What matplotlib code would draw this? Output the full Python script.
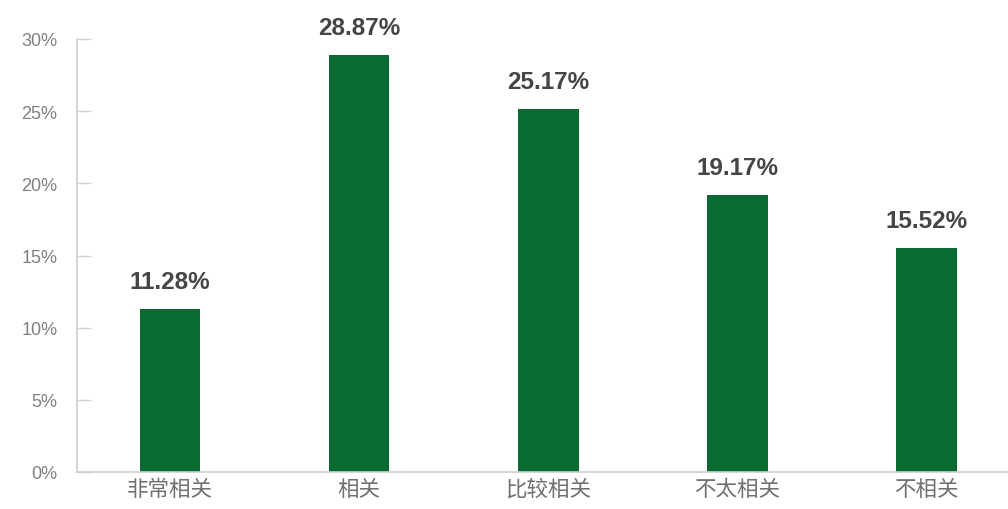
import matplotlib.pyplot as plt
from matplotlib.ticker import FuncFormatter

plt.rcParams['font.family'] = ['Noto Sans CJK SC', 'DejaVu Sans']

# data
categories = ['非常相关', '相关', '比较相关', '不太相关', '不相关']
values = [11.28, 28.87, 25.17, 19.17, 15.52]
yticks = [0, 5, 10, 15, 20, 25, 30]

bar_color = '#0a6b32'
axis_color = '#d0d0d0'

fig = plt.figure(figsize=(10.08, 5.10), dpi=100)
ax = fig.add_axes([77 / 1008, 37 / 510, 1 - 77 / 1008, 433 / 510])

x = list(range(len(categories)))
ax.bar(x, values, width=0.32, color=bar_color, zorder=2)

for xi, v in zip(x, values):
    ax.text(xi, v + 1.1, f'{v:.2f}%', ha='center', va='bottom',
            fontsize=17.5, fontweight='bold', color='#454545',
            family=['Liberation Sans', 'DejaVu Sans'])

ax.set_xlim(-0.492, 4.43)
ax.set_ylim(0, 30)
ax.set_yticks(yticks)
ax.yaxis.set_major_formatter(FuncFormatter(lambda v, p: f'{int(v)}%'))
ax.set_xticks(x)
ax.set_xticklabels(categories, fontsize=15.5, color='#707070')

for lbl in ax.get_yticklabels():
    lbl.set_family(['Liberation Sans', 'DejaVu Sans'])
ax.tick_params(axis='y', direction='in', length=10, width=1, color=axis_color,
               labelsize=13, labelcolor='#808080', pad=14)
ax.tick_params(axis='x', length=0, pad=4)

ax.spines['top'].set_visible(False)
ax.spines['right'].set_visible(False)
ax.spines['left'].set_color(axis_color)
ax.spines['bottom'].set_color(axis_color)
ax.spines['left'].set_linewidth(1.2)
ax.spines['bottom'].set_linewidth(1.2)

plt.savefig('out.png', dpi=100)
